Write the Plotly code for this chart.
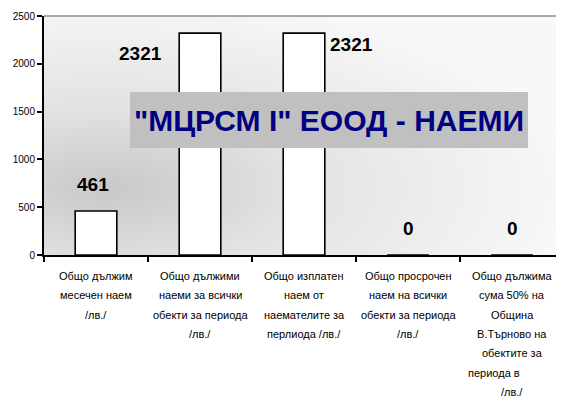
import base64
import plotly.graph_objects as go

NBSP = "\u00a0"

# Category labels (one list of lines per bar, as wrapped in the original)
label_lines = [
    ["Общо дължим", "месечен наем", "/лв./"],
    ["Общо дължими", "наеми за всички", "обекти за периода", "/лв./"],
    ["Общо изплатен", "наем от", "наемателите за", "перлиода /лв./"],
    ["Общо просрочен", "наем на всички", "обекти за периода", "/лв./"],
    ["Общо дължима", "сума 50% на", "Община", "В.Търново на", "обектите за",
     "периода в" + NBSP * 12, "/лв./"],
]
categories = ["c1", "c2", "c3", "c4", "c5"]
values = [461, 2321, 2321, 0, 0]
y_ticks = [0, 500, 1000, 1500, 2000, 2500]

chart_title = "\"МЦРСМ I\" ЕООД - НАЕМИ"
FONT = "Liberation Sans, Arial, sans-serif"

# Data label offsets (px) relative to the top of each bar, as placed in the original
label_offsets = [(-3, 26), (-60, -20), (47, -11), (0, 27), (0, 27)]

fig = go.Figure()

fig.add_trace(go.Bar(
    x=categories,
    y=values,
    width=0.4,
    marker=dict(color="white", line=dict(color="black", width=1.6)),
    hoverinfo="skip",
))

# Soft grey gradient for the plot area background
svg = (
    '<svg xmlns="http://www.w3.org/2000/svg" width="520" height="239" '
    'viewBox="0 0 520 239" preserveAspectRatio="none">'
    '<defs><radialGradient id="g" gradientUnits="userSpaceOnUse" '
    'cx="62" cy="172" r="470" '
    'gradientTransform="translate(62 172) scale(1 0.42) translate(-62 -172)">'
    '<stop offset="0" stop-color="#c8c8c8"/>'
    '<stop offset="0.4" stop-color="#e2e2e2"/>'
    '<stop offset="1" stop-color="#f8f8f8"/>'
    '</radialGradient></defs>'
    '<rect width="520" height="239" fill="#f8f8f8"/>'
    '<rect width="520" height="239" fill="url(#g)"/></svg>'
)
bg_src = "data:image/svg+xml;base64," + base64.b64encode(svg.encode()).decode()

annotations = []

# Value labels above / beside the bars
for cat, val, (dx, dy) in zip(categories, values, label_offsets):
    annotations.append(dict(
        x=cat, y=val, xref="x", yref="y",
        text=str(val), showarrow=False,
        xshift=dx, yshift=dy,
        font=dict(family=FONT, size=19, color="black", weight="bold"),
    ))

# Category labels, one annotation per line to keep the wide line spacing
for cat, lines in zip(categories, label_lines):
    for i, line in enumerate(lines):
        annotations.append(dict(
            x=cat, y=0, xref="x", yref="paper",
            text=line, showarrow=False,
            yanchor="middle", yshift=-(21 + 19.3 * i),
            font=dict(family=FONT, size=11, color="black"),
        ))

# Title box in the middle of the chart
annotations.append(dict(
    x=0.548, y=0.565, xref="paper", yref="paper",
    text=chart_title, showarrow=False,
    width=398, height=56, bgcolor="#c0c0c0",
    borderpad=0, borderwidth=0,
    font=dict(family=FONT, size=30, color="#000080", weight="bold"),
))

# the page body adds an 8px margin, so the figure is 8px smaller and shifted
fig.update_layout(
    width=556,
    height=390,
    margin=dict(l=36, r=0, t=8, b=143),
    paper_bgcolor="white",
    plot_bgcolor="rgba(0,0,0,0)",
    showlegend=False,
    annotations=annotations,
    images=[dict(
        source=bg_src, xref="x domain", yref="y domain",
        x=0, y=1, sizex=1, sizey=1, xanchor="left", yanchor="top",
        sizing="stretch", layer="below",
    )],
    shapes=[dict(
        type="line", xref="paper", yref="paper",
        x0=0, x1=1, y0=1, y1=1,
        line=dict(color="#8c8c8c", width=1.5),
    )],
    xaxis=dict(
        type="category",
        range=[-0.5, 4.5],
        showticklabels=False,
        ticks="outside",
        tickson="boundaries",
        ticklen=5,
        tickwidth=1.5,
        tickcolor="black",
        showline=True,
        linecolor="black",
        linewidth=2,
        showgrid=False,
        zeroline=False,
    ),
    yaxis=dict(
        range=[0, 2500],
        tickvals=y_ticks,
        ticks="outside",
        ticklen=5,
        tickwidth=1.5,
        tickcolor="black",
        showline=True,
        linecolor="black",
        linewidth=2,
        showgrid=False,
        zeroline=False,
        tickfont=dict(family=FONT, size=10, color="black"),
    ),
)

fig.write_html("out.html")
